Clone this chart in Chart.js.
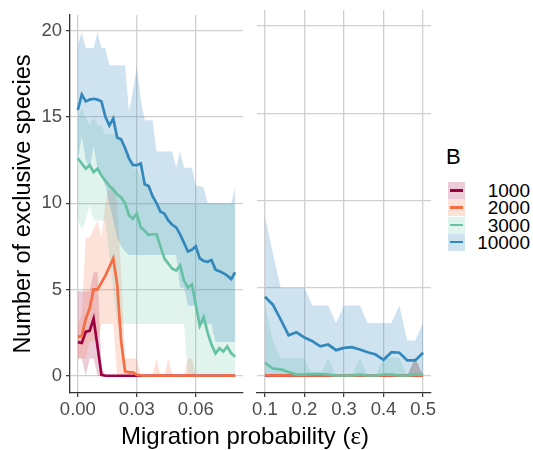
<!DOCTYPE html>
<html>
<head>
<meta charset="utf-8">
<script src="https://cdn.jsdelivr.net/npm/chart.js@4.4.1/dist/chart.umd.min.js"></script>
<style>
  body { margin: 0; background: #fff; width: 533px; height: 450px; overflow: hidden; position: relative;
         font-family: 'Liberation Sans', Arial, sans-serif; }
  #leftPanel { position: absolute; left: 0; top: 0; }
  #rightPanel { position: absolute; left: 245px; top: 0; }
  #xTitle { position: absolute; left: 0; width: 490px; top: 422px; line-height: 28px; text-align: center;
            font-size: 24px; color: #000; }
  #xTitle .sym { font-family: 'Liberation Serif', 'DejaVu Serif', serif; font-size: 25px; }
  #legendTitle { position: absolute; left: 446px; top: 144px; font-size: 22px; line-height: 26px; color: #000; }
  .key { position: absolute; left: 448px; width: 17px; height: 17px; }
  .key span { position: absolute; left: 2px; right: 2px; top: 7px; height: 2.6px; }
  .keyLabel { position: absolute; left: 460px; width: 70px; text-align: right; font-size: 19px; line-height: 17px; color: #000; }
</style>
</head>
<body>
<canvas id="leftPanel" width="245" height="450"></canvas>
<canvas id="rightPanel" width="200" height="450"></canvas>
<div id="xTitle">Migration probability (<span class="sym">ε</span>)</div>
<div id="legendTitle">B</div>
<div id="legend"></div>
<script>
// x positions of each facet
const epsLeft = [0,0.002,0.004,0.006,0.008,0.01,0.012,0.014,0.016,0.018,0.02,0.022,0.024,0.026,0.028,0.03,0.032,0.034,0.036,0.038,0.04,0.042,0.044,0.046,0.048,0.05,0.052,0.054,0.056,0.058,0.06,0.062,0.064,0.066,0.068,0.07,0.072,0.074,0.076,0.078,0.08];
const epsRight = [0.1,0.12,0.14,0.16,0.18,0.2,0.22,0.24,0.26,0.28,0.3,0.32,0.34,0.36,0.38,0.4,0.42,0.44,0.46,0.48,0.5];

// ticks
const xTicksLeft = [0, 0.03, 0.06];
const xLabelsLeft = ['0.00', '0.03', '0.06'];
const xTicksRight = [0.1, 0.2, 0.3, 0.4, 0.5];
const xLabelsRight = ['0.1', '0.2', '0.3', '0.4', '0.5'];
const yTicks = [0, 5, 10, 15, 20];
const yLabels = ['0', '5', '10', '15', '20'];

// legend
const groupNames = ['1000', '2000', '3000', '10000'];
const lineColors = ['#9E0142', '#F46D43', '#66C2A5', '#3288BD'];
const ribbonColors = ['rgba(158,1,66,0.2)', 'rgba(244,109,67,0.2)', 'rgba(102,194,165,0.2)', 'rgba(50,136,189,0.24)'];

// B = 1000, small migration
const meanL1000 = [1.95,1.9,2.55,2.6,3.3,1.7,0.05,0,0,0, 0,0,0,0,0,0,0,0,0,0, 0,0,0,0,0,0,0,0,0,0, 0,0,0,0,0,0,0,0,0,0, 0];
const lowL1000  = [1,1,0,1,1,0,0,0,0,0, 0,0,0,0,0,0,0,0,0,0, 0,0,0,0,0,0,0,0,0,0, 0,0,0,0,0,0,0,0,0,0, 0];
const highL1000 = [4.9,4.9,4.9,4.9,6,6,0.5,0,0,0, 0,0,0,0,0,0,0,0,0,0, 0,0,0,0,0,0,0,0,0,0, 0,0,0,0,0,0,0,0,0,0, 0];
// B = 2000
const meanL2000 = [2.25,2.3,3.3,3.9,5,5,5.4,5.8,6.3,6.8, 5.3,2,0.25,0.2,0.2,0.05,0.02,0,0,0, 0,0.02,0,0,0.02,0,0,0,0.02,0, 0,0,0,0,0,0,0,0,0.02,0, 0];
const lowL2000  = [1,1,1,2,2,2,3,3,3,3, 0,0,0,0,0,0,0,0,0,0, 0,0,0,0,0,0,0,0,0,0, 0,0,0,0,0,0,0,0,0,0, 0];
const highL2000 = [3,3.5,8,8,8.5,9,8,10,11,11, 10,6,1,1,1,1,0,0,0,0, 1,0,0,1,0,0,0,0,1,1, 0,0,0,0,0,0,0,0,0,0, 0];
// B = 3000
const meanL3000 = [12.6,12.3,12,12.2,11.8,12,11.6,11.3,11,10.8, 10.5,10.35,10,9.3,9.1,9.4,8.6,8.4,8.15,8.2, 8.2,7.5,6.8,6.5,6.2,6.1,6.4,5.5,5.1,5.3, 4.1,2.9,3.4,2.5,1.8,1.3,1.6,1.4,1.7,1.3, 1.1];
const lowL3000  = [9,8.5,9,9.9,9,9,9,9,7,5, 3,3,3,3,3,3,3,3,3,3, 3,3,3,3,3,3,3,3,0,0, 0,0,0,0,0,0,0,0,0,0, 0];
const highL3000 = [15,15.5,15,14.5,15,14.5,14.5,14,14,14, 14,13.5,13,12.5,12,12,11.5,11,11,10.5, 10,10,10,10,10,10,10,10,10,10, 10,10,10,10,10,10,10,10,10,10, 10];
// B = 10000
const meanL10000 = [15.4,16.3,15.9,16,16.05,16,15.9,15,14.5,14.9, 13.8,13.7,13.2,12.6,12.2,12.2,12.3,11.1,11,10.4, 10,9.5,9.4,9,8.75,8.6,8.2,7.7,7.2,7.3, 7.5,6.8,6.65,6.6,6.7,6.15,6.05,5.95,5.8,5.6, 6];
const lowL10000  = [12.5,13.9,12.5,12,13.3,12,11.5,11,10,9, 8,7.5,7.2,7,7,7,7,7,7,7, 7,7,7,7,7,7,5.1,5.1,4.05,4.05, 4.05,3,3,3,3,1.95,1.95,1.95,1.95,1.95, 1.95];
const highL10000 = [19.2,19.9,19,19,19,19.9,19,19,18,18, 18,18,18,15.3,16.5,17.9,16,14.8,14.8,14.8, 13,13,13,13,13,12.05,13,12.05,12.05,12.05, 11,11,10.9,10,10,10,10,10,10,10, 10.9];

// large migration
const meanR1000 = [0,0,0,0,0,0,0,0,0,0,0,0,0,0,0,0,0,0,0,0,0];
const lowR1000  = [0,0,0,0,0,0,0,0,0,0,0,0,0,0,0,0,0,0,0,0,0];
const highR1000 = [0,0,0,0,0,0,0,0,0,0,0,0,0,0,0,0,0,0,0,1,0];
const meanR2000 = [0.02,0,0.02,0,0,0.02,0,0,0,0,0,0.02,0,0,0,0,0.02,0,0,0.02,0];
const lowR2000  = [0,0,0,0,0,0,0,0,0,0,0,0,0,0,0,0,0,0,0,0,0];
const highR2000 = [0,0,0,0,0,0,0,0,0,0,0,0,0,0,0,0,0,0,0,1,0];
const meanR3000 = [0.72,0.4,0.35,0.2,0.05,0.05,0.1,0.1,0.05,0,0,0,0.05,0,0,0.05,0.05,0,0,0.05,0.05];
const lowR3000  = [0,0,0,0,0,0,0,0,0,0,0,0,0,0,0,0,0,0,0,0,0];
const highR3000 = [4,2,1,1,1,1,0,0,1,0,0,0,1,0,0,1,1,1,0,1,0];
const meanR10000 = [4.5,4.05,3.2,2.3,2.47,2.17,1.96,1.67,1.77,1.45,1.58,1.62,1.49,1.33,1.2,0.9,1.33,1.3,0.86,0.86,1.3];
const lowR10000  = [0,0,0,0,0,0,0,0,0,0,0,0,0,0,0,0,0,0,0,0,0];
const highR10000 = [9.1,7,5,5,5,5,4,4,4,3,4,4,4,3,3,3,3,4,2,2,3];

const gridColor = '#d0d0d0';
const axisColor = '#333333';
const tickText = '#4d4d4d';
Chart.defaults.font.family = "'Liberation Sans', Arial, sans-serif";

function pts(xs, ys) {
	return xs.map((x, i) => ({ x: x, y: ys[i] }));
}

// ribbons first (beneath), then lines; later groups sit on top
function buildDatasets(xs, groups) {
	const ds = [];
	groups.forEach((g, k) => {
		const loIdx = ds.length;
		ds.push({ data: pts(xs, g[1]), borderWidth: 0, pointRadius: 0, fill: false, order: 20 - k });
		ds.push({ data: pts(xs, g[2]), borderWidth: 0, pointRadius: 0, fill: loIdx,
			backgroundColor: ribbonColors[k], order: 20 - k });
	});
	groups.forEach((g, k) => {
		ds.push({ data: pts(xs, g[0]), borderColor: lineColors[k], borderWidth: 2.7, pointRadius: 0,
			fill: false, tension: 0, order: 10 - k });
	});
	return ds;
}

function xScale(min, max, ticks, labels) {
	return {
		type: 'linear', min: min, max: max,
		afterBuildTicks: s => { s.ticks = ticks.map(v => ({ value: v })); },
		afterFit: s => { s.height = 57; },
		ticks: { callback: (v, i) => labels[i], color: tickText, font: { size: 18.5 }, padding: 2,
			maxRotation: 0, autoSkip: false },
		grid: { color: gridColor, lineWidth: 1.3, tickColor: axisColor, tickLength: 4, tickWidth: 1.2 },
		border: { display: true, color: axisColor, width: 1.3 }
	};
}

const commonOptions = {
	responsive: false,
	animation: false,
	events: [],
	plugins: { legend: { display: false }, tooltip: { enabled: false } },
};

new Chart(document.getElementById('leftPanel').getContext('2d'), {
	type: 'line',
	data: {
		datasets: buildDatasets(epsLeft, [
			[meanL1000, lowL1000, highL1000],
			[meanL2000, lowL2000, highL2000],
			[meanL3000, lowL3000, highL3000],
			[meanL10000, lowL10000, highL10000]
		])
	},
	options: Object.assign({}, commonOptions, {
		layout: { padding: { top: 10, right: 2, left: 0, bottom: 0 } },
		scales: {
			x: xScale(-0.004, 0.084, xTicksLeft, xLabelsLeft),
			y: {
				type: 'linear', min: -1, max: 20.9,
				afterBuildTicks: s => { s.ticks = yTicks.map(v => ({ value: v })); },
				afterFit: s => { s.width = 70; },
				ticks: { callback: (v, i) => yLabels[i], color: tickText, font: { size: 18.5 }, padding: 4 },
				grid: { color: gridColor, lineWidth: 1.3, tickColor: axisColor, tickLength: 4, tickWidth: 1.2 },
				border: { display: true, color: axisColor, width: 1.3 },
				title: { display: true, text: 'Number of exclusive species', color: '#000',
					font: { size: 23.5 }, padding: { top: 9, bottom: 0 } }
			}
		}
	})
});

new Chart(document.getElementById('rightPanel').getContext('2d'), {
	type: 'line',
	data: {
		datasets: buildDatasets(epsRight, [
			[meanR1000, lowR1000, highR1000],
			[meanR2000, lowR2000, highR2000],
			[meanR3000, lowR3000, highR3000],
			[meanR10000, lowR10000, highR10000]
		])
	},
	options: Object.assign({}, commonOptions, {
		layout: { padding: { top: 10, right: 14, left: 12, bottom: 0 } },
		scales: {
			x: xScale(0.08, 0.52, xTicksRight, xLabelsRight),
			y: {
				type: 'linear', min: -1, max: 20.9,
				afterBuildTicks: s => { s.ticks = yTicks.map(v => ({ value: v })); },
				afterFit: s => { s.width = 0; },
				ticks: { display: false },
				grid: { color: gridColor, lineWidth: 1.3, drawTicks: false },
				border: { display: false }
			}
		}
	})
});

// legend keys
const legend = document.getElementById('legend');
groupNames.forEach((name, k) => {
	const top = 182 + k * 17.3;
	const key = document.createElement('div');
	key.className = 'key';
	key.style.top = top + 'px';
	key.style.background = ribbonColors[k];
	const bar = document.createElement('span');
	bar.style.background = lineColors[k];
	key.appendChild(bar);
	legend.appendChild(key);
	const lab = document.createElement('div');
	lab.className = 'keyLabel';
	lab.style.top = top + 'px';
	lab.textContent = name;
	legend.appendChild(lab);
});
</script>
</body>
</html>
